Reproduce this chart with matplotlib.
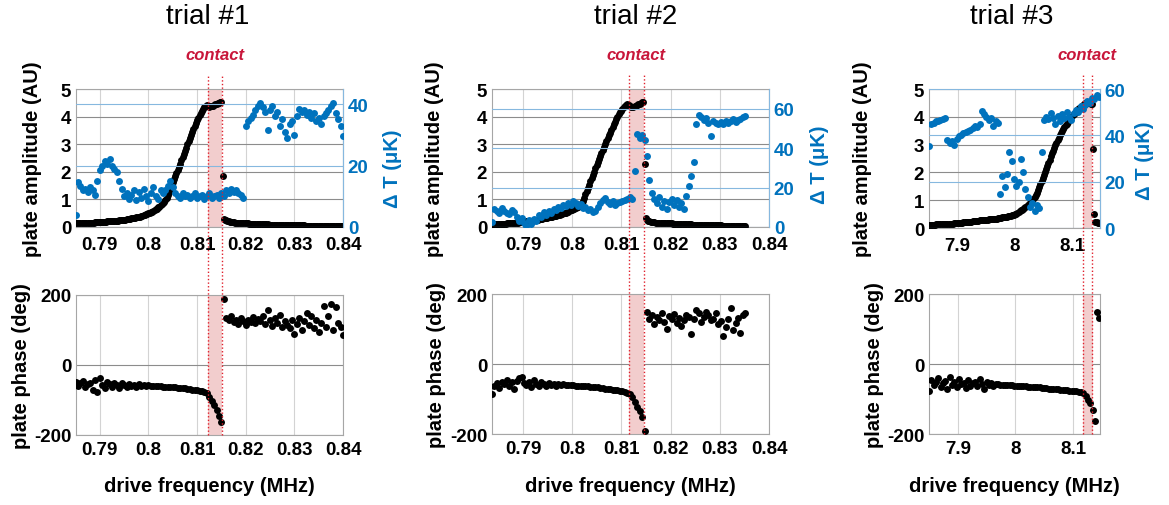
import numpy as np
import matplotlib
matplotlib.use("Agg")
import matplotlib.pyplot as plt
from matplotlib.lines import Line2D
from matplotlib.transforms import blended_transform_factory

plt.rcParams['font.family'] = ['Liberation Sans', 'DejaVu Sans']
plt.rcParams['font.weight'] = 'bold'

# ---------------------------------------------------------------- data
# frequency sweeps (start, step in MHz): amplitude is sampled twice as finely
trial1_amp_sweep = (0.7850, 0.00025)
trial2_amp_sweep = (0.7837, 0.00025)
trial3_amp_sweep = (7.850, 0.002)
trial1_sweep = (0.7850, 0.0005)
trial2_sweep = (0.7837, 0.0005)
trial3_sweep = (7.850, 0.004)

# plate amplitude (AU)
trial1_amp = [0.13, 0.13, 0.13, 0.13, 0.14, 0.14, 0.14, 0.14, 0.15, 0.15, 0.15,
              0.15, 0.16, 0.16, 0.16, 0.16, 0.17, 0.17, 0.17, 0.17, 0.18,
              0.18, 0.18, 0.18, 0.19, 0.19, 0.20, 0.20, 0.20, 0.20, 0.21,
              0.21, 0.22, 0.22, 0.23, 0.23, 0.24, 0.24, 0.25, 0.25, 0.26,
              0.27, 0.28, 0.28, 0.29, 0.30, 0.31, 0.32, 0.33, 0.34, 0.35,
              0.36, 0.37, 0.38, 0.40, 0.41, 0.43, 0.44, 0.46, 0.48, 0.50,
              0.52, 0.54, 0.56, 0.59, 0.61, 0.64, 0.67, 0.71, 0.74, 0.78,
              0.82, 0.87, 0.92, 0.99, 1.06, 1.15, 1.26, 1.38, 1.50, 1.62,
              1.73, 1.85, 1.96, 2.07, 2.18, 2.30, 2.41, 2.53, 2.65, 2.77,
              2.88, 3.00, 3.11, 3.22, 3.33, 3.44, 3.55, 3.66, 3.76, 3.86,
              3.96, 4.05, 4.13, 4.21, 4.28, 4.34, 4.39, 4.43, 4.40, 4.36,
              4.37, 4.38, 4.40, 4.42, 4.44, 4.46, 4.48, 4.50, 4.52, 4.54,
              1.86, 0.30, 0.27, 0.24, 0.22, 0.20, 0.19, 0.18, 0.17, 0.17,
              0.16, 0.16, 0.15, 0.15, 0.14, 0.14, 0.14, 0.14, 0.13, 0.13,
              0.13, 0.13, 0.12, 0.12, 0.12, 0.12, 0.11, 0.11, 0.11, 0.11,
              0.11, 0.11, 0.10, 0.10, 0.10, 0.10, 0.10, 0.10, 0.09, 0.09,
              0.09, 0.09, 0.09, 0.09, 0.08, 0.08, 0.08, 0.08, 0.08, 0.08,
              0.08, 0.08, 0.07, 0.07, 0.07, 0.07, 0.07, 0.07, 0.07, 0.07,
              0.06, 0.06, 0.06, 0.06, 0.06, 0.06, 0.06, 0.06, 0.05, 0.05,
              0.05, 0.05, 0.05, 0.05, 0.05, 0.05, 0.05, 0.05, 0.05, 0.05,
              0.04, 0.04, 0.04, 0.04, 0.04, 0.04, 0.04, 0.04, 0.04, 0.04,
              0.04, 0.04, 0.04, 0.04, 0.03, 0.03, 0.03, 0.03, 0.03, 0.03]
trial2_amp = [0.10, 0.10, 0.10, 0.10, 0.11, 0.11, 0.11, 0.11, 0.12, 0.12, 0.12,
              0.12, 0.13, 0.13, 0.14, 0.14, 0.14, 0.14, 0.15, 0.15, 0.16,
              0.16, 0.17, 0.17, 0.18, 0.18, 0.19, 0.19, 0.20, 0.20, 0.21,
              0.22, 0.23, 0.23, 0.24, 0.25, 0.26, 0.27, 0.28, 0.29, 0.30,
              0.30, 0.31, 0.32, 0.33, 0.34, 0.35, 0.36, 0.37, 0.38, 0.39,
              0.40, 0.41, 0.42, 0.43, 0.44, 0.46, 0.47, 0.49, 0.50, 0.52,
              0.54, 0.56, 0.58, 0.60, 0.62, 0.64, 0.66, 0.69, 0.71, 0.74,
              0.78, 0.82, 0.88, 0.96, 1.06, 1.18, 1.30, 1.42, 1.53, 1.65,
              1.77, 1.90, 2.01, 2.12, 2.23, 2.35, 2.46, 2.58, 2.69, 2.80,
              2.91, 3.02, 3.12, 3.22, 3.32, 3.42, 3.52, 3.62, 3.72, 3.82,
              3.91, 4.00, 4.08, 4.15, 4.22, 4.28, 4.33, 4.38, 4.41, 4.44,
              4.41, 4.38, 4.36, 4.34, 4.36, 4.38, 4.40, 4.42, 4.44, 4.46,
              4.49, 4.52, 4.54, 2.28, 0.32, 0.26, 0.22, 0.20, 0.19, 0.18,
              0.17, 0.17, 0.16, 0.16, 0.15, 0.15, 0.15, 0.15, 0.14, 0.14,
              0.14, 0.14, 0.13, 0.13, 0.13, 0.13, 0.12, 0.12, 0.12, 0.12,
              0.12, 0.12, 0.11, 0.11, 0.11, 0.11, 0.10, 0.10, 0.10, 0.10,
              0.10, 0.10, 0.09, 0.09, 0.09, 0.09, 0.09, 0.09, 0.08, 0.08,
              0.08, 0.08, 0.08, 0.08, 0.07, 0.07, 0.07, 0.07, 0.07, 0.07,
              0.06, 0.06, 0.06, 0.06, 0.06, 0.06, 0.05, 0.05, 0.05, 0.05,
              0.05, 0.05, 0.05, 0.05, 0.05, 0.05, 0.04, 0.04, 0.04, 0.04,
              0.04, 0.04, 0.04, 0.03, 0.03, 0.03]
trial3_amp = [0.11, 0.11, 0.12, 0.12, 0.12, 0.12, 0.13, 0.13, 0.13, 0.13, 0.14,
              0.14, 0.14, 0.14, 0.14, 0.14, 0.15, 0.15, 0.15, 0.15, 0.16,
              0.16, 0.17, 0.17, 0.18, 0.18, 0.18, 0.18, 0.19, 0.19, 0.20,
              0.20, 0.21, 0.21, 0.22, 0.22, 0.23, 0.23, 0.24, 0.24, 0.25,
              0.25, 0.26, 0.26, 0.27, 0.27, 0.28, 0.28, 0.29, 0.29, 0.30,
              0.30, 0.31, 0.31, 0.32, 0.32, 0.33, 0.33, 0.34, 0.34, 0.35,
              0.35, 0.36, 0.37, 0.38, 0.38, 0.39, 0.40, 0.41, 0.42, 0.43,
              0.44, 0.45, 0.46, 0.48, 0.50, 0.52, 0.54, 0.57, 0.60, 0.63,
              0.66, 0.69, 0.72, 0.76, 0.79, 0.83, 0.86, 0.90, 0.94, 0.99,
              1.04, 1.10, 1.17, 1.26, 1.35, 1.46, 1.57, 1.68, 1.79, 1.90,
              2.01, 2.12, 2.23, 2.35, 2.46, 2.58, 2.68, 2.78, 2.88, 2.98,
              3.07, 3.16, 3.25, 3.33, 3.41, 3.48, 3.55, 3.62, 3.69, 3.75,
              3.81, 3.87, 3.93, 3.99, 4.05, 4.10, 4.15, 4.19, 4.24, 4.28,
              4.32, 4.35, 4.39, 4.42, 4.45, 4.48, 4.50, 4.52, 4.50, 4.48,
              4.46, 4.45, 2.84, 0.50, 0.23, 0.20, 0.18, 0.17]

# plate phase (deg)
trial1_phase = [-48, -60, -52, -45, -62, -55, -50, -70, -42, -78, -38,
                -58, -65, -48, -55, -62, -50, -58, -66, -52, -56,
                -63, -54, -60, -57, -62, -55, -60, -58, -61, -58,
                -59, -60, -60, -61, -61, -62, -62, -63, -63, -64,
                -64, -65, -66, -67, -67, -68, -69, -70, -71, -72,
                -73, -75, -77, -80, -90, -102, -115, -128, -145, -164,
                190,
                135, 128, 140, 122, 130, 118, 135, 125, 115, 130,
                122, 138, 120, 132, 125, 140, 118, 158, 128, 112,
                135, 120, 142, 110, 125, 115, 105, 130, 88, 118,
                135, 100, 125, 148, 115, 140, 105, 130, 95, 120,
                170, 110, 140, 175, 100, 165, 120, 110, 85]
trial2_phase = [-86,
                -62, -55, -68, -50, -58, -45, -63, -52, -70, -48,
                -40, -36, -55, -60, -50, -66, -47, -58, -62, -52,
                -57, -64, -55, -60, -58, -62, -56, -60, -58, -61,
                -60, -61, -61, -62, -62, -63, -63, -64, -64, -65,
                -66, -66, -67, -68, -69, -70, -71, -72, -73, -74,
                -75, -77, -78, -80,
                -82, -86, -95, -108, -122, -135, -152, -191,
                148, 130, 140, 115, 135, 125, 145, 120, 100, 138,
                128, 142, 118, 132, 110, 125, 140, 135, 85, 128,
                155, 145, 120, 135, 150, 140, 125, 130, 145, 115,
                122, 80, 105, 128, 160, 98, 118, 132, 90, 140, 145]
trial3_phase = [-78, -45, -60, -52, -40, -66, -55, -48, -70, -38,
                -60, -50, -65, -42, -58, -53, -68, -45, -62, -55,
                -50, -64, -44, -58, -70, -52, -60, -55, -62, -58,
                -58, -59, -59, -60, -60, -61, -61, -62, -62, -63,
                -63, -64, -64, -65, -65, -66, -66, -67, -67, -68,
                -68, -69, -70, -70, -71, -72, -72, -73, -74, -74,
                -75, -76, -77, -78, -78, -79, -80,
                -84, -92, -102, -112, -130, -164, 148, 131]

# temperature change (uK)
trial1_dT = [4.0, 14.5, 13.5, 12.0, 12.5, 11.5, 13.0, 12.0, 10.5, 15.0, 18.5,
             20.0, 21.5, 20.5, 22.0, 20.0, 19.0, 18.0, 15.0, 12.5, 10.0,
             11.0, 9.0, 10.5, 12.0, 8.8, 11.5, 9.5, 12.5, 10.0, 8.5,
             11.0, 13.0, 10.0, 9.0, 12.0, 11.0, 12.0, 13.5, 15.0, 13.0,
             11.0, 10.0, 9.5, 11.0, 10.0, 10.5, 9.5, 10.0, 11.0, 9.5,
             10.0, 10.5, 9.0, 10.0, 11.0, 9.5, 10.0, 10.5, 9.5, 11.0,
             10.0, 12.0, 11.0, 12.5, 11.5, 12.0, 11.0, 10.5, 9.5, 33.0,
             34.5, 35.5, 36.5, 38.0, 39.5, 40.5, 39.0, 37.5, 31.5, 38.0,
             39.5, 36.0, 37.5, 33.0, 35.0, 31.0, 29.0, 33.5, 34.5, 30.0,
             36.0, 38.5, 37.5, 38.0, 36.5, 37.5, 35.5, 37.0, 34.5, 35.5,
             33.5, 36.0, 37.0, 38.0, 39.5, 40.5, 37.0, 35.0, 33.0, 29.5]
trial2_dT = [2.5, 9, 8, 7, 9.5, 8, 7, 6.5, 8.5, 7.5,
             5, 3, 4.5, 2, 0.5, 3.5, 1.5, 4, 3, 6,
             5, 7.5, 6, 8, 7, 9, 8.5, 10, 9.5, 11,
             10.5, 12, 11, 13, 12, 10.5, 11.5, 9.5, 10, 8.5,
             9, 7.5, 8, 10, 12, 13.5, 14.5, 12.5, 11.5, 13,
             11, 12, 12.5, 13, 13.5, 14, 15, 14, 28.5, 47,
             45, 46.5, 44, 36, 24, 17, 14, 12, 15, 10,
             13, 9, 12.5, 14, 11, 13.5, 10, 12, 9, 15.5,
             21, 26, 33, 52, 57, 56, 54.5, 55.5, 53, 46,
             54, 53, 52, 53.5, 52.5, 54, 53, 54, 55, 53.5,
             54.5, 55, 56, 56.5]
trial3_dT = [35.5, 45, 45.5, 46, 46, 46.5, 47, 47.5, 38, 36.5,
             37.5, 36, 38.5, 39.5, 40, 41, 41.5, 42, 42.5, 43,
             44, 43.5, 45, 50.5, 49, 48, 46.5, 47.5, 44, 46,
             45.5, 14.5, 22.5, 17.5, 23.5, 33, 29, 21, 18, 20,
             30, 24, 17, 13.5, 9, 11, 7.5, 10, 8.5, 33,
             46.5, 48, 47, 49.5, 47.5, 45, 48.5, 46, 49, 47.5,
             50, 48, 46.5, 49.5, 51, 50, 52.5, 51.5, 53, 55,
             54, 56, 55.5, 57.5, 56.5]

# contact interval (MHz)
trial1_contact = (0.8122, 0.8151)
trial2_contact = (0.8115, 0.8145)
trial3_contact = (8.118, 8.134)

titles = ['trial #1', 'trial #2', 'trial #3']
xtick_values = [[0.79, 0.80, 0.81, 0.82, 0.83, 0.84],
                [0.79, 0.80, 0.81, 0.82, 0.83, 0.84],
                [7.9, 8.0, 8.1]]
xtick_labels = [['0.79', '0.8', '0.81', '0.82', '0.83', '0.84'],
                ['0.79', '0.8', '0.81', '0.82', '0.83', '0.84'],
                ['7.9', '8', '8.1']]
amp_ticks = [0, 1, 2, 3, 4, 5]
phase_ticks = [-200, 0, 200]
phase_labels = ['-200', '0', '200']
dT_ticks = [[0, 20, 40], [0, 20, 40, 60], [0, 20, 40, 60]]

# ---------------------------------------------------------------- layout
W, H = 1169, 506
fig = plt.figure(figsize=(W / 100, H / 100), dpi=100)


def rect(l, t, r, b):
    return [l / W, 1 - b / H, (r - l) / W, (b - t) / H]


top_boxes = [(76, 90, 343, 228), (492, 90, 769, 228), (929, 90, 1099.5, 229)]
bot_boxes = [(76, 296, 343, 436), (492, 295, 769, 435), (929, 295, 1100, 435)]
xlims = [(0.7851, 0.8400), (0.7837, 0.8400), (7.850, 8.147)]
dT_lims = [44.9, 70.0, 60.0]
amp_label_x = [33, 435, 863]
phase_label_x = [22, 436, 874]
dT_label_pos = [(392, 169), (820, 165), (1145, 161)]
title_x = [208, 636, 1012]

BLUE = '#0072BD'
RED = '#c8163a'
PINK = '#f2cdcd'
FRAME = '#a6a6a6'
VGRID = '#d3d3d3'
HGRID = '#8c8c8c'
BGRID = '#86b8df'
FS_TICK = 13.5
FS_LAB = 14.5
MS = 5.0

amp_sweeps = [trial1_amp_sweep, trial2_amp_sweep, trial3_amp_sweep]
sweeps = [trial1_sweep, trial2_sweep, trial3_sweep]
amps = [trial1_amp, trial2_amp, trial3_amp]
phases = [trial1_phase, trial2_phase, trial3_phase]
dTs = [trial1_dT, trial2_dT, trial3_dT]
contacts = [trial1_contact, trial2_contact, trial3_contact]


def frame(ax):
    for s in ax.spines.values():
        s.set_color(FRAME)
        s.set_linewidth(0.8)
    ax.set_axisbelow(True)
    ax.grid(axis='x', color=VGRID, lw=0.8)
    ax.grid(axis='y', color=HGRID, lw=0.8)
    ax.tick_params(length=0, labelsize=FS_TICK)
    ax.tick_params(axis='x', pad=6.5)
    ax.tick_params(axis='y', pad=3.5)


for i in range(3):
    a0, da = amp_sweeps[i]
    freq_amp = a0 + da * np.arange(len(amps[i]))
    f0, df = sweeps[i]
    freq = f0 + df * np.arange(len(phases[i]))
    c0, c1 = contacts[i]

    # amplitude + temperature panel
    ax = fig.add_axes(rect(*top_boxes[i]))
    frame(ax)
    ax.axvspan(c0, c1, color=PINK, lw=0, zorder=1)
    ax.plot(freq_amp, amps[i], 'o', color='black', ms=MS, mew=0, zorder=3)
    ax.set_xlim(*xlims[i])
    ax.set_ylim(0, 5)
    ax.set_yticks(amp_ticks)
    ax.set_xticks(xtick_values[i])
    ax.set_xticklabels(xtick_labels[i])

    ax2 = ax.twinx()
    ax2.plot(freq, dTs[i], 'o', color=BLUE, ms=MS, mew=0, zorder=3)
    ax2.set_ylim(0, dT_lims[i])
    ax2.set_yticks(dT_ticks[i])
    ax2.set_axisbelow(True)
    ax2.grid(axis='y', color=BGRID, lw=0.8)
    ax2.tick_params(axis='y', length=0, labelsize=FS_TICK, colors=BLUE, pad=3.5)
    for s in ax2.spines.values():
        s.set_visible(False)
    ax2.spines['right'].set_visible(True)
    ax2.spines['right'].set_color(BGRID)
    ax2.spines['right'].set_linewidth(0.8)

    # phase panel
    bx = fig.add_axes(rect(*bot_boxes[i]))
    frame(bx)
    bx.tick_params(axis='x', pad=4.5)
    bx.axvspan(c0, c1, color=PINK, lw=0, zorder=1)
    bx.plot(freq, phases[i], 'o', color='black', ms=MS, mew=0, zorder=3)
    bx.set_xlim(*xlims[i])
    bx.set_ylim(-200, 200)
    bx.set_yticks(phase_ticks)
    bx.set_yticklabels(phase_labels)
    bx.set_xticks(xtick_values[i])
    bx.set_xticklabels(xtick_labels[i])

    # contact markers spanning both panels
    trans = blended_transform_factory(ax.transData, fig.transFigure)
    y_hi = 1 - 75 / H
    y_lo = 1 - bot_boxes[i][3] / H
    for xb in (c0, c1):
        fig.add_artist(Line2D([xb, xb], [y_lo, y_hi], transform=trans,
                              color='#e0202c', lw=1.0, ls=(0, (1, 1.6)),
                              zorder=6))
    fig.text(0.5 * (c0 + c1), 1 - 56 / H, 'contact', transform=trans,
             ha='center', va='center', color=RED, fontsize=12,
             style='italic', weight='bold')

    # labels
    fig.text(title_x[i] / W, 1 - 17 / H, titles[i], ha='center', va='center',
             fontsize=20, weight='normal')
    t, b = top_boxes[i][1], top_boxes[i][3]
    fig.text(amp_label_x[i] / W, 1 - 0.5 * (t + b) / H, 'plate amplitude (AU)',
             rotation=90, ha='center', va='center', fontsize=FS_LAB)
    t, b = bot_boxes[i][1], bot_boxes[i][3]
    fig.text(phase_label_x[i] / W, 1 - 0.5 * (t + b) / H, 'plate phase (deg)',
             rotation=90, ha='center', va='center', fontsize=FS_LAB)
    xl, yl = dT_label_pos[i]
    fig.text(xl / W, 1 - yl / H, '\u0394 T (\u03bcK)', rotation=90,
             ha='center', va='center', fontsize=FS_LAB, color=BLUE)
    l, r = bot_boxes[i][0], bot_boxes[i][2]
    fig.text(0.5 * (l + r) / W, 1 - 487 / H, 'drive frequency (MHz)',
             ha='center', va='center', fontsize=FS_LAB)

fig.savefig('out.png', dpi=100)
